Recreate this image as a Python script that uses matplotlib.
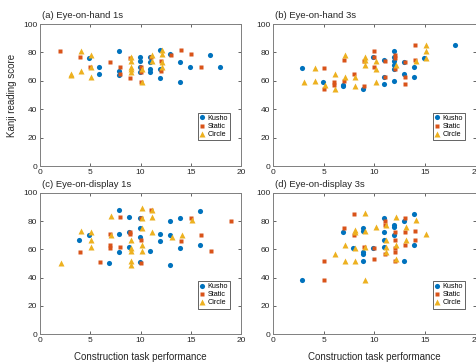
import matplotlib
matplotlib.use('Agg')
import matplotlib.pyplot as plt

plt.rcParams['font.family'] = ['Liberation Sans', 'DejaVu Sans']

# (a) Eye-on-hand 1s
a_kusho_x = [5, 6, 6, 8, 8, 8, 10, 10, 10, 10, 11, 11, 11, 11, 12, 12, 12, 13, 14, 14, 15, 17, 18]
a_kusho_y = [76, 70, 65, 81, 67, 64, 77, 74, 70, 66, 73, 77, 68, 66, 82, 68, 62, 79, 73, 59, 70, 78, 70]
a_static_x = [2, 4, 5, 7, 8, 8, 9, 9, 10, 10, 10, 11, 12, 12, 13, 14, 15, 16]
a_static_y = [81, 77, 70, 73, 70, 65, 62, 76, 70, 66, 59, 77, 74, 67, 78, 82, 79, 70]
a_circle_x = [3, 3, 4, 4, 5, 5, 5, 9, 9, 9, 9, 9, 10, 10, 11, 11, 12, 12, 12, 12]
a_circle_y = [65, 64, 81, 67, 78, 70, 63, 77, 74, 70, 68, 66, 59, 68, 78, 74, 82, 79, 73, 70]

# (b) Eye-on-hand 3s
b_kusho_x = [3, 5, 7, 7, 9, 10, 11, 11, 11, 12, 12, 12, 12, 12, 12, 13, 13, 14, 14, 15, 18]
b_kusho_y = [69, 59, 57, 56, 54, 77, 75, 63, 58, 81, 77, 74, 71, 68, 60, 73, 65, 70, 63, 76, 85]
b_static_x = [5, 5, 6, 6, 7, 7, 8, 9, 9, 10, 10, 10, 11, 11, 12, 12, 12, 13, 13, 13, 14, 14]
b_static_y = [69, 54, 59, 57, 75, 60, 65, 74, 56, 81, 77, 70, 74, 63, 78, 76, 68, 73, 63, 58, 85, 75]
b_circle_x = [3, 4, 4, 5, 6, 6, 7, 7, 8, 8, 9, 9, 9, 10, 10, 10, 12, 14, 15, 15, 15]
b_circle_y = [59, 69, 60, 57, 65, 54, 78, 63, 63, 56, 77, 75, 71, 74, 68, 59, 71, 74, 85, 81, 76]

# (c) Eye-on-display 1s
c_kusho_x = [4, 5, 7, 8, 8, 8, 9, 9, 9, 10, 10, 10, 10, 11, 12, 12, 13, 13, 13, 14, 14, 16, 16]
c_kusho_y = [67, 70, 50, 88, 71, 58, 83, 72, 62, 82, 75, 69, 51, 59, 71, 66, 80, 70, 49, 82, 61, 87, 63]
c_static_x = [4, 6, 7, 7, 7, 8, 8, 9, 9, 10, 10, 10, 11, 14, 15, 16, 17, 19]
c_static_y = [58, 51, 71, 63, 61, 83, 62, 72, 71, 82, 67, 50, 88, 66, 82, 70, 59, 80]
c_circle_x = [2, 4, 5, 5, 5, 7, 7, 9, 9, 9, 9, 9, 10, 10, 10, 10, 10, 11, 11, 11, 13, 14, 15]
c_circle_y = [50, 73, 72, 67, 62, 84, 70, 67, 61, 59, 52, 49, 89, 82, 75, 63, 59, 88, 83, 72, 69, 70, 81]

# (d) Eye-on-display 3s
d_kusho_x = [3, 7, 8, 9, 9, 9, 9, 9, 10, 11, 11, 11, 11, 12, 12, 12, 13, 13, 14, 14]
d_kusho_y = [38, 72, 61, 75, 73, 58, 57, 52, 61, 82, 72, 67, 62, 77, 76, 70, 80, 52, 85, 63]
d_static_x = [5, 5, 7, 8, 8, 9, 10, 10, 11, 11, 11, 12, 12, 12, 12, 12, 13, 13, 13, 14, 14]
d_static_y = [52, 38, 75, 85, 70, 62, 61, 53, 80, 77, 57, 72, 67, 61, 58, 52, 82, 72, 63, 73, 67]
d_circle_x = [6, 7, 7, 8, 8, 8, 8, 9, 9, 9, 9, 10, 11, 11, 11, 11, 12, 12, 12, 13, 13, 14, 15]
d_circle_y = [57, 63, 52, 74, 72, 61, 52, 86, 73, 62, 38, 76, 77, 67, 62, 58, 83, 63, 53, 76, 67, 81, 71]

panels = [
    ('(a) Eye-on-hand 1s', a_kusho_x, a_kusho_y, a_static_x, a_static_y, a_circle_x, a_circle_y),
    ('(b) Eye-on-hand 3s', b_kusho_x, b_kusho_y, b_static_x, b_static_y, b_circle_x, b_circle_y),
    ('(c) Eye-on-display 1s', c_kusho_x, c_kusho_y, c_static_x, c_static_y, c_circle_x, c_circle_y),
    ('(d) Eye-on-display 3s', d_kusho_x, d_kusho_y, d_static_x, d_static_y, d_circle_x, d_circle_y),
]

blue = '#0072BD'
orange = '#D95319'
yellow = '#EDB120'
edge = '#7f7f7f'

fig = plt.figure(figsize=(4.77, 3.62), dpi=100)
rects = [
    [0.0839, 0.5414, 0.4214, 0.3923],
    [0.5723, 0.5414, 0.4256, 0.3923],
    [0.0839, 0.0773, 0.4214, 0.3896],
    [0.5723, 0.0773, 0.4256, 0.3896],
]

for i, (title, kx, ky, sx, sy, cx, cy) in enumerate(panels):
    ax = fig.add_axes(rects[i])
    ax.plot([x - 0.1 for x in kx], ky, 'o', color=blue, ms=3.7, mec='none', label='Kusho')
    ax.plot(sx, sy, 's', color=orange, ms=3.3, mec='none', label='Static')
    ax.plot([x + 0.1 for x in cx], cy, '^', color=yellow, ms=3.9, mec='none', label='Circle')
    ax.set_xlim(0, 20)
    ax.set_ylim(0, 100)
    ax.set_xticks([0, 5, 10, 15, 20])
    ax.set_yticks([0, 20, 40, 60, 80, 100])
    ax.tick_params(direction='in', length=2, width=0.5, labelsize=6, colors='#262626',
                   top=True, right=True, pad=2)
    for sp in ax.spines.values():
        sp.set_color(edge)
        sp.set_linewidth(0.7)
    ax.text(0.01, 1.03, title, transform=ax.transAxes, fontsize=6.8, ha='left', va='bottom',
            color='#262626')
    leg = ax.legend(loc='lower right', bbox_to_anchor=(0.965, 0.155), fontsize=5.2,
                    handlelength=0.6, handletextpad=0.5, borderpad=0.3, labelspacing=0.15,
                    fancybox=False, framealpha=1, edgecolor='#262626')
    leg.get_frame().set_linewidth(0.5)
    if i == 0:
        ax.set_ylabel('Kanji reading score', fontsize=7, color='#262626', labelpad=4)
    if i >= 2:
        ax.set_xlabel('Construction task performance', fontsize=7, color='#262626', labelpad=6)

fig.savefig('out.png', dpi=100)
